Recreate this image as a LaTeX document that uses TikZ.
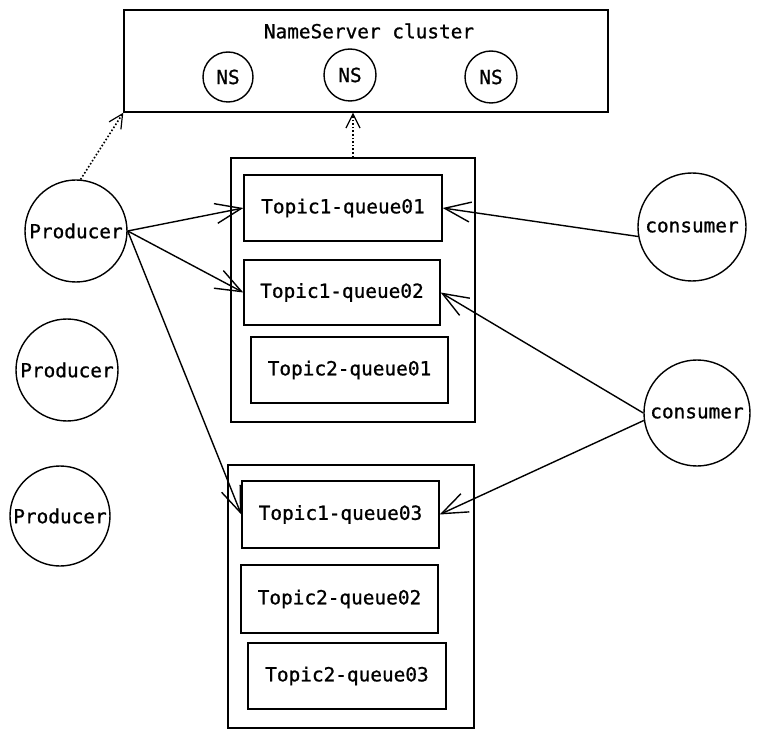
\documentclass[tikz,border=0pt]{standalone}
\usepackage{fontspec}
\setmonofont[FakeBold=0.9]{DejaVu Sans Mono}
\usetikzlibrary{arrows.meta}
\begin{document}
\begin{tikzpicture}[x=1pt,y=-1pt,
  every node/.style={font=\ttfamily\fontsize{19.4}{23}\selectfont},
  box/.style={draw, line width=1.4pt, rectangle, inner sep=0pt},
  circ/.style={draw, line width=1.4pt, circle, inner sep=0pt},
  arr/.style={line width=1.4pt, -{Straight Barb[length=26pt,width=20pt,line width=1.4pt]}},
  darr/.style={line width=1.6pt, dotted, -{Straight Barb[length=14pt,width=14pt,line width=1.2pt]}}]
\useasboundingbox (0,0) rectangle (761,738);
% NameServer cluster
\node[box, minimum width=484pt, minimum height=102pt] (ns) at (366,61) {};
\node (nslabel) at (369,31) {NameServer cluster};
\node[circ, minimum size=50pt] (ns1) at (228,77) {NS};
\node[circ, minimum size=52pt] (ns2) at (350,75) {NS};
\node[circ, minimum size=52pt] (ns3) at (491,77) {NS};
% Broker 1
\node[box, minimum width=244pt, minimum height=264pt] (b1) at (353,290) {};
\node[box, minimum width=198pt, minimum height=66pt] (q1) at (343,208) {Topic1-queue01};
\node[box, minimum width=196pt, minimum height=65pt] (q2) at (342,292.5) {Topic1-queue02};
\node[box, minimum width=197pt, minimum height=66pt] (t2q1) at (349.5,370) {Topic2-queue01};
% Broker 2
\node[box, minimum width=246pt, minimum height=263pt] (b2) at (351,596.5) {};
\node[box, minimum width=197pt, minimum height=67pt] (t1q3) at (340.5,514.5) {Topic1-queue03};
\node[box, minimum width=197pt, minimum height=68pt] (t2q2) at (339.5,599) {Topic2-queue02};
\node[box, minimum width=198pt, minimum height=66pt] (t2q3) at (347,676) {Topic2-queue03};
% Producers
\node[circ, minimum size=102pt] (p1) at (76,231) {Producer};
\node[circ, minimum size=102pt] (p2) at (67,370) {Producer};
\node[circ, minimum size=100pt] (p3) at (60,516) {Producer};
% Consumers
\node[circ, minimum size=108pt] (c1) at (692,227) {consumer};
\node[circ, minimum size=106pt] (c2) at (697,413) {consumer};
% connectors
\draw[arr] (p1.east) -- (q1.west);
\draw[arr] (p1.east) -- (q2.west);
\draw[arr] (p1.east) -- (t1q3.west);
\draw[arr] (c1.190) -- (q1.east);
\draw[arr] (c2.west) -- (q2.east);
\draw[arr] (c2.188) -- (t1q3.east);
\draw[darr] (p1.85) -- (ns.south west);
\draw[darr] (b1.north) -- (b1.north |- ns.south);
\end{tikzpicture}
\end{document}
